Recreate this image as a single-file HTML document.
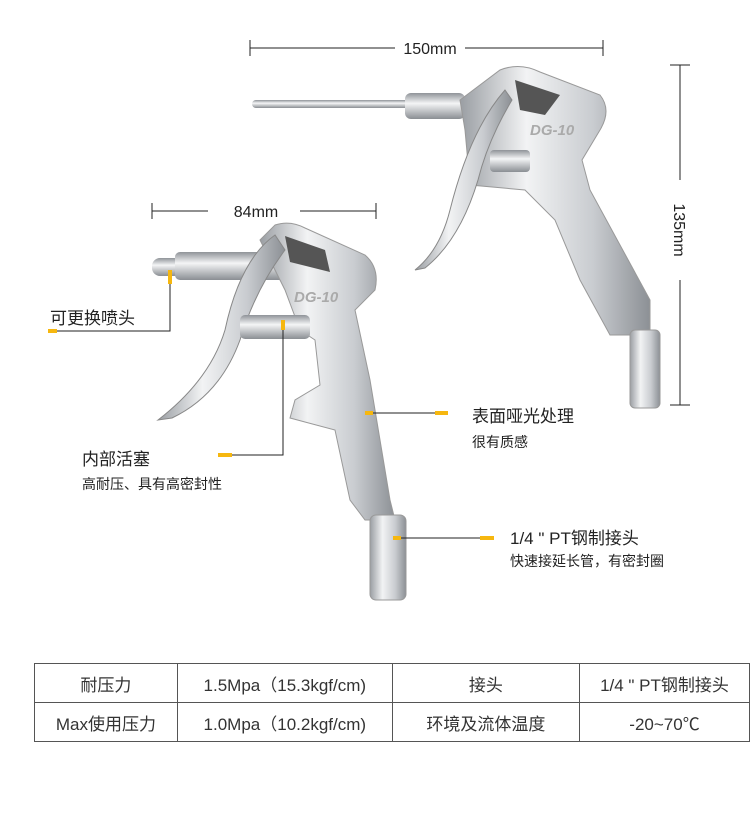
<!DOCTYPE html>
<html><head><meta charset="utf-8"><style>
body{margin:0;background:#fff;}
.w{position:relative;width:750px;height:835px;overflow:hidden;font-family:"Liberation Sans","Noto Sans CJK SC",sans-serif;color:#222;}
svg{position:absolute;left:0;top:0}
.t{position:absolute;white-space:nowrap}
table{position:absolute;left:34px;top:663px;border-collapse:collapse;font-size:17px;color:#333}
td{border:1.5px solid #555;height:38px;text-align:center;padding:0}
</style></head><body><div class="w">
<svg width="750" height="835" viewBox="0 0 750 835">
<defs>
<linearGradient id="m" x1="0" y1="0" x2="1" y2="0">
<stop offset="0" stop-color="#9a9ea3"/><stop offset=".35" stop-color="#f2f3f4"/><stop offset=".7" stop-color="#c9ccd0"/><stop offset="1" stop-color="#8c9095"/></linearGradient>
<linearGradient id="n" x1="0" y1="0" x2="0" y2="1">
<stop offset="0" stop-color="#8f9398"/><stop offset=".4" stop-color="#f4f5f6"/><stop offset="1" stop-color="#8a8e93"/></linearGradient>
</defs>
<g stroke="#222" stroke-width="1" fill="none">
<line x1="250" y1="48" x2="395" y2="48"/><line x1="465" y1="48" x2="603" y2="48"/>
<line x1="250" y1="40" x2="250" y2="56"/><line x1="603" y1="40" x2="603" y2="56"/>
<line x1="152" y1="211" x2="208" y2="211"/><line x1="300" y1="211" x2="376" y2="211"/>
<line x1="152" y1="203" x2="152" y2="219"/><line x1="376" y1="203" x2="376" y2="219"/>
<line x1="680" y1="65" x2="680" y2="180"/><line x1="680" y1="280" x2="680" y2="405"/>
<line x1="670" y1="65" x2="690" y2="65"/><line x1="670" y1="405" x2="690" y2="405"/>
</g>
<!-- back gun -->
<g>
<rect x="252" y="100" width="160" height="8" rx="4" fill="url(#n)"/>
<rect x="405" y="93" width="60" height="26" rx="6" fill="url(#n)"/>
<path d="M460 100 L500 70 Q520 62 540 72 L600 95 Q612 110 600 130 L582 160 L590 190 L650 300 L650 335 L610 335 L580 280 L555 220 L525 190 L470 185 L465 130 Z" fill="url(#m)" stroke="#999"/>
<path d="M515 80 L560 95 L545 115 L520 110 Z" fill="#555"/>
<path d="M505 90 Q470 130 450 210 Q440 250 415 270 L425 268 Q460 240 478 180 Q488 140 512 100 Z" fill="url(#m)" stroke="#888"/>
<rect x="490" y="150" width="40" height="22" rx="4" fill="url(#n)"/>
<rect x="630" y="330" width="30" height="78" rx="5" fill="url(#m)" stroke="#999"/>
<text x="530" y="135" font-family="Liberation Sans" font-style="italic" font-weight="bold" font-size="15" fill="#aaa">DG-10</text>
</g>
<!-- front gun -->
<g>
<rect x="152" y="258" width="30" height="18" rx="8" fill="url(#n)"/>
<rect x="175" y="252" width="110" height="28" rx="5" fill="url(#n)"/>
<path d="M260 240 L275 225 Q290 220 305 228 L365 255 Q380 268 375 290 L355 310 L370 380 L390 500 L395 520 L365 520 L350 500 L335 430 L290 418 L295 400 L320 385 L315 340 L300 330 L285 290 Z" fill="url(#m)" stroke="#999"/>
<path d="M285 236 L325 250 L330 272 L290 262 Z" fill="#555"/>
<path d="M275 235 Q240 260 225 330 Q210 380 158 420 L172 418 Q220 395 240 340 Q255 290 285 250 Z" fill="url(#m)" stroke="#888"/>
<rect x="240" y="315" width="70" height="24" rx="5" fill="url(#n)"/>
<rect x="370" y="515" width="36" height="85" rx="6" fill="url(#m)" stroke="#999"/>
<text x="294" y="302" font-family="Liberation Sans" font-style="italic" font-weight="bold" font-size="15" fill="#aaa">DG-10</text>
</g>
<g stroke="#222" stroke-width="1" fill="none">
<polyline points="170,284 170,331 56,331"/>
<polyline points="232,455 283,455 283,330"/>
<line x1="372" y1="413" x2="435" y2="413"/>
<line x1="400" y1="538" x2="480" y2="538"/>
</g>
<g fill="#f6b70f">
<rect x="168" y="270" width="4" height="14"/><rect x="48" y="329" width="9" height="4"/>
<rect x="281" y="320" width="4" height="10"/><rect x="218" y="453" width="14" height="4"/>
<rect x="365" y="411" width="8" height="4"/><rect x="435" y="411" width="13" height="4"/>
<rect x="393" y="536" width="8" height="4"/><rect x="480" y="536" width="14" height="4"/>
</g>
<text x="430" y="54" text-anchor="middle" font-size="16" fill="#222" font-family="Liberation Sans">150mm</text>
<text x="256" y="217" text-anchor="middle" font-size="16" fill="#222" font-family="Liberation Sans">84mm</text>
<text x="674" y="230" text-anchor="middle" font-size="16" fill="#222" font-family="Liberation Sans" transform="rotate(90 674 230)">135mm</text>
</svg>
<div class="t" style="left:50px;top:304px;font-size:17px">可更换喷头</div>
<div class="t" style="left:82px;top:445px;font-size:17px">内部活塞</div>
<div class="t" style="left:82px;top:474px;font-size:14px">高耐压、具有高密封性</div>
<div class="t" style="left:472px;top:402px;font-size:17px">表面哑光处理</div>
<div class="t" style="left:472px;top:432px;font-size:14px">很有质感</div>
<div class="t" style="left:510px;top:524px;font-size:17px">1/4 " PT钢制接头</div>
<div class="t" style="left:510px;top:551px;font-size:14px">快速接延长管，有密封圈</div>
<table>
<tr><td style="width:143px">耐压力</td><td style="width:215px">1.5Mpa（15.3kgf/cm)</td><td style="width:188px">接头</td><td style="width:170px">1/4 " PT钢制接头</td></tr>
<tr><td>Max使用压力</td><td>1.0Mpa（10.2kgf/cm)</td><td>环境及流体温度</td><td>-20~70℃</td></tr>
</table>
</div></body></html>
